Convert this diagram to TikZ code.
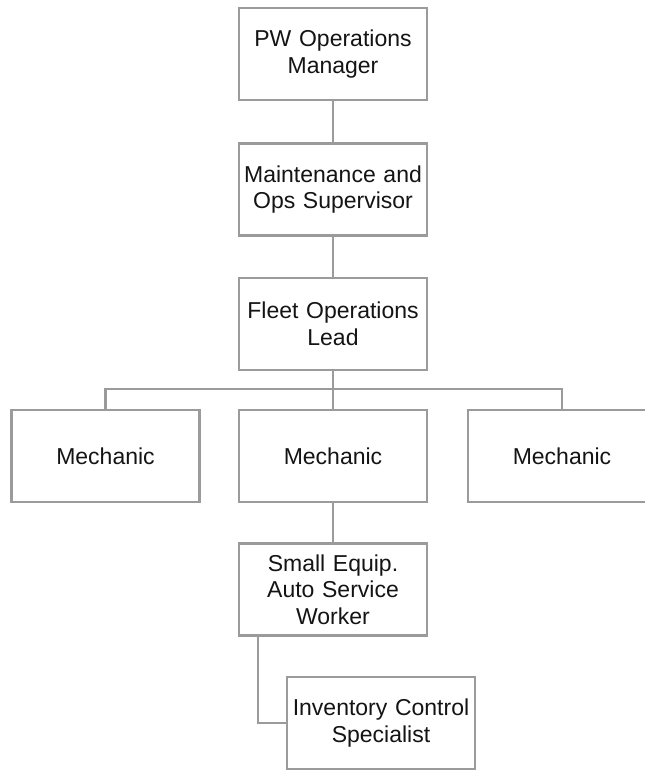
\documentclass[tikz,border=0pt]{standalone}
\usepackage{fontspec}
\setmainfont{Liberation Sans}
\definecolor{linegray}{RGB}{155,155,155}
\definecolor{textblack}{RGB}{20,20,20}
\begin{document}
\begin{tikzpicture}[x=1pt,y=-1pt,
  box/.style={draw=linegray, line width=2.6pt, minimum width=188pt, minimum height=92pt,
    align=center, inner sep=0pt, text width=186pt, fill=white, text=textblack,
    font=\fontsize{23}{26.5}\selectfont},
  conn/.style={draw=linegray, line width=2.6pt}]
\useasboundingbox (0,0) rectangle (645,771);
\clip (0,0) rectangle (645,771);
\node[box] (pw) at (333,54) {PW Operations\\Manager};
\node[box] (sup) at (333,189.5) {Maintenance and\\Ops Supervisor};
\node[box] (lead) at (333,324) {Fleet Operations\\Lead};
\node[box] (mecA) at (105.5,456) {Mechanic};
\node[box] (mecB) at (333,456) {Mechanic};
\node[box] (mecC) at (562,456) {Mechanic};
\node[box] (small) at (333,589.5) {Small Equip.\\Auto Service\\Worker};
\node[box] (inv) at (381,723) {Inventory Control\\Specialist};
\coordinate (bus) at (333,389);
\coordinate (drop) at (258,723);
\draw[conn] (pw.south) -- (sup.north);
\draw[conn] (sup.south) -- (lead.north);
\draw[conn] (lead.south) -- (mecB.north);
\draw[conn] (mecA.north) |- (bus) -| (mecC.north);
\draw[conn] (mecB.south) -- (small.north);
\draw[conn] (small.south -| drop) -- (drop) -- (inv.west);
\end{tikzpicture}
\end{document}
